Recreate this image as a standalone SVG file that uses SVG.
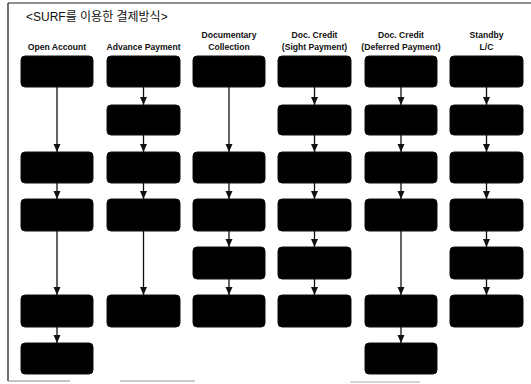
<svg xmlns="http://www.w3.org/2000/svg" width="531" height="384" viewBox="0 0 531 384">
<style>
.box{fill:#000;stroke:#111;stroke-width:1}
.hd{font-family:"Liberation Sans",Arial,sans-serif;font-size:8.6px;font-weight:bold;fill:#111;text-anchor:middle}
.ttl{font-family:"Liberation Sans","Noto Sans CJK KR",sans-serif;font-size:12px;fill:#111}
.cn line{stroke:#111;stroke-width:1.3;marker-end:url(#ah)}
</style>
<defs>
<marker id="ah" markerUnits="userSpaceOnUse" markerWidth="8" markerHeight="8" viewBox="0 0 8 8" refX="8" refY="4" orient="auto">
<path d="M0,0.5 L8,4 L0,7.5 Z" fill="#111"/>
</marker>
</defs>
<rect width="531" height="384" fill="#fff"/>
<g id="frame">
<line x1="8" y1="3" x2="531" y2="3" stroke="#222" stroke-width="1.2"/>
<line x1="8" y1="3" x2="8" y2="381" stroke="#222" stroke-width="1.3"/>
<line x1="8" y1="381" x2="70" y2="381" stroke="#888" stroke-width="1"/>
<line x1="120" y1="381" x2="195" y2="381" stroke="#999" stroke-width="1"/>
<line x1="350" y1="382" x2="420" y2="382" stroke="#aaa" stroke-width="1"/>
</g>
<text id="title" class="ttl" x="26" y="21">&lt;SURF를 이용한 결제방식&gt;</text>
<g id="headers">
<text class="hd" x="57" y="50">Open Account</text>
<text class="hd" x="143.5" y="50">Advance Payment</text>
<text class="hd" x="229" y="38">Documentary</text>
<text class="hd" x="229" y="50">Collection</text>
<text class="hd" x="314.5" y="38">Doc. Credit</text>
<text class="hd" x="314.5" y="50">(Sight Payment)</text>
<text class="hd" x="401" y="38">Doc. Credit</text>
<text class="hd" x="401" y="50">(Deferred Payment)</text>
<text class="hd" x="486.5" y="38">Standby</text>
<text class="hd" x="486.5" y="50">L/C</text>
</g>
<g id="connectors" class="cn">
<line x1="57" y1="87" x2="57" y2="152"/>
<line x1="57" y1="183" x2="57" y2="199"/>
<line x1="57" y1="231" x2="57" y2="295"/>
<line x1="57" y1="327" x2="57" y2="343"/>
<line x1="143.5" y1="87" x2="143.5" y2="105"/>
<line x1="143.5" y1="135" x2="143.5" y2="152"/>
<line x1="143.5" y1="183" x2="143.5" y2="199"/>
<line x1="143.5" y1="231" x2="143.5" y2="295"/>
<line x1="229" y1="87" x2="229" y2="152"/>
<line x1="229" y1="183" x2="229" y2="199"/>
<line x1="229" y1="231" x2="229" y2="247"/>
<line x1="229" y1="279" x2="229" y2="295"/>
<line x1="314.5" y1="87" x2="314.5" y2="105"/>
<line x1="314.5" y1="135" x2="314.5" y2="152"/>
<line x1="314.5" y1="183" x2="314.5" y2="199"/>
<line x1="314.5" y1="231" x2="314.5" y2="247"/>
<line x1="314.5" y1="279" x2="314.5" y2="295"/>
<line x1="401" y1="87" x2="401" y2="105"/>
<line x1="401" y1="135" x2="401" y2="152"/>
<line x1="401" y1="183" x2="401" y2="199"/>
<line x1="401" y1="231" x2="401" y2="295"/>
<line x1="401" y1="327" x2="401" y2="343"/>
<line x1="486.5" y1="87" x2="486.5" y2="105"/>
<line x1="486.5" y1="135" x2="486.5" y2="152"/>
<line x1="486.5" y1="183" x2="486.5" y2="199"/>
<line x1="486.5" y1="231" x2="486.5" y2="247"/>
<line x1="486.5" y1="279" x2="486.5" y2="295"/>
</g>
<g id="col1">
<rect id="n1-1" class="box" x="21" y="56" width="72" height="31" rx="4"/>
<rect id="n1-3" class="box" x="21" y="152" width="72" height="31" rx="4"/>
<rect id="n1-4" class="box" x="21" y="199" width="72" height="32" rx="4"/>
<rect id="n1-6" class="box" x="21" y="295" width="72" height="32" rx="4"/>
<rect id="n1-7" class="box" x="21" y="343" width="72" height="31" rx="4"/>
</g>
<g id="col2">
<rect id="n2-1" class="box" x="107" y="56" width="73" height="31" rx="4"/>
<rect id="n2-2" class="box" x="107" y="105" width="73" height="30" rx="4"/>
<rect id="n2-3" class="box" x="107" y="152" width="73" height="31" rx="4"/>
<rect id="n2-4" class="box" x="107" y="199" width="73" height="32" rx="4"/>
<rect id="n2-6" class="box" x="107" y="295" width="73" height="32" rx="4"/>
</g>
<g id="col3">
<rect id="n3-1" class="box" x="193" y="56" width="72" height="31" rx="4"/>
<rect id="n3-3" class="box" x="193" y="152" width="72" height="31" rx="4"/>
<rect id="n3-4" class="box" x="193" y="199" width="72" height="32" rx="4"/>
<rect id="n3-5" class="box" x="193" y="247" width="72" height="32" rx="4"/>
<rect id="n3-6" class="box" x="193" y="295" width="72" height="32" rx="4"/>
</g>
<g id="col4">
<rect id="n4-1" class="box" x="278" y="56" width="73" height="31" rx="4"/>
<rect id="n4-2" class="box" x="278" y="105" width="73" height="30" rx="4"/>
<rect id="n4-3" class="box" x="278" y="152" width="73" height="31" rx="4"/>
<rect id="n4-4" class="box" x="278" y="199" width="73" height="32" rx="4"/>
<rect id="n4-5" class="box" x="278" y="247" width="73" height="32" rx="4"/>
<rect id="n4-6" class="box" x="278" y="295" width="73" height="32" rx="4"/>
</g>
<g id="col5">
<rect id="n5-1" class="box" x="365" y="56" width="72" height="31" rx="4"/>
<rect id="n5-2" class="box" x="365" y="105" width="72" height="30" rx="4"/>
<rect id="n5-3" class="box" x="365" y="152" width="72" height="31" rx="4"/>
<rect id="n5-4" class="box" x="365" y="199" width="72" height="32" rx="4"/>
<rect id="n5-6" class="box" x="365" y="295" width="72" height="32" rx="4"/>
<rect id="n5-7" class="box" x="365" y="343" width="72" height="31" rx="4"/>
</g>
<g id="col6">
<rect id="n6-1" class="box" x="450" y="56" width="73" height="31" rx="4"/>
<rect id="n6-2" class="box" x="450" y="105" width="73" height="30" rx="4"/>
<rect id="n6-3" class="box" x="450" y="152" width="73" height="31" rx="4"/>
<rect id="n6-4" class="box" x="450" y="199" width="73" height="32" rx="4"/>
<rect id="n6-5" class="box" x="450" y="247" width="73" height="32" rx="4"/>
<rect id="n6-6" class="box" x="450" y="295" width="73" height="32" rx="4"/>
</g>
</svg>
